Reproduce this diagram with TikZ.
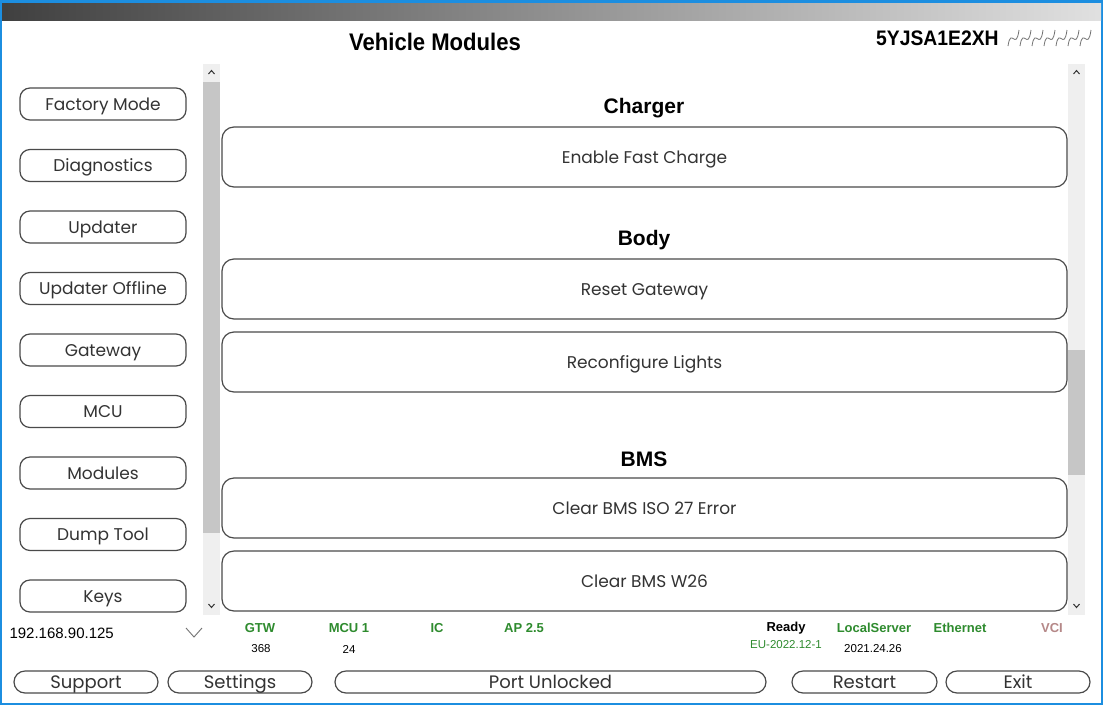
\documentclass[tikz,border=0pt]{standalone}
\usepackage{fontspec}
\setmainfont{Poppins}
\newfontfamily\arialfont{Liberation Sans}
\newfontfamily\narrowfont{Liberation Sans}[FakeStretch=0.92]
\usetikzlibrary{positioning}
\definecolor{winblue}{HTML}{1C8EE0}
\definecolor{edge}{HTML}{4A4A4A}
\definecolor{ink}{HTML}{333333}
\definecolor{track}{HTML}{EFEFEF}
\definecolor{thumb}{HTML}{C6C6C6}
\definecolor{okgreen}{HTML}{2E8B2E}
\definecolor{vcirose}{HTML}{B58888}
\begin{document}
\begin{tikzpicture}[x=1pt,y=-1pt,
    side/.style = {draw=edge, line width=1.2pt, rounded corners=10pt, minimum width=166pt, minimum height=32pt, inner sep=0pt, text height=12pt, text depth=0pt, text=ink, font=\fontsize{17}{17}\selectfont},
    entry/.style = {draw=edge, line width=1.2pt, rounded corners=12pt, minimum width=845pt, minimum height=60pt, inner sep=0pt, text height=12pt, text depth=0pt, text=ink, font=\fontsize{17}{17}\selectfont},
    head/.style = {font=\arialfont\bfseries\fontsize{21}{21}\selectfont},
    pill/.style = {draw=edge, line width=1.2pt, rounded corners=11pt, minimum height=22pt, inner sep=0pt, text height=12pt, text depth=0pt, text=ink, font=\fontsize{18}{18}\selectfont},
    stat/.style = {font=\arialfont\bfseries\fontsize{13}{13}\selectfont, text=okgreen},
    val/.style = {font=\arialfont\fontsize{11.5}{11.5}\selectfont, text=black}]
  \useasboundingbox (0,0) rectangle (1103,705);

  % window frame
  \fill[winblue] (0,0) rectangle (1103,705);
  \fill[white] (2,20) rectangle (1101,703);
  \shade[left color=black!75, right color=black!12] (2,3) rectangle (1101,20);

  % title and vin
  \node[font=\narrowfont\bfseries\fontsize{24}{24}\selectfont] (title) at (435,42) {Vehicle Modules};
  \node[font=\narrowfont\bfseries\fontsize{21}{21}\selectfont, anchor=west, inner sep=0pt] (vin) at (876,38) {5YJSA1E2XH};
  \foreach \k in {0,...,6}
    \draw[black!55, line width=0.8pt] (1008+12*\k,46) .. controls (1011+12*\k,26) and (1016+12*\k,52) .. (1019+12*\k,30);

  % scroll bars
  \fill[track] (203,64) rectangle (220,615);
  \fill[thumb] (203,82) rectangle (220,533);
  \fill[track] (1068,64) rectangle (1085,615);
  \fill[thumb] (1068,350) rectangle (1085,475);
  \foreach \sx in {211.5,1076.5} {
    \draw[ink, line width=1pt] (\sx-3,74) -- (\sx,70.5) -- (\sx+3,74);
    \draw[ink, line width=1pt] (\sx-3,604) -- (\sx,607.5) -- (\sx+3,604);
  }

  % side menu
  \node[side] (factory) at (103,104) {Factory Mode};
  \node[side] (diag) [below=28.3pt of factory] {Diagnostics};
  \node[side] (upd) [below=28.3pt of diag] {Updater};
  \node[side] (updoff) [below=28.3pt of upd] {Updater Offline};
  \node[side] (gw) [below=28.3pt of updoff] {Gateway};
  \node[side] (mcu) [below=28.3pt of gw] {MCU};
  \node[side] (mods) [below=28.3pt of mcu] {Modules};
  \node[side] (dump) [below=28.3pt of mods] {Dump Tool};
  \node[side] (keys) [below=28.3pt of dump] {Keys};

  % module list
  \node[head] (charger) at (644,108) {Charger};
  \node[entry] (fast) at (644.5,157) {Enable Fast Charge};
  \node[head] (body) at (644,240) {Body};
  \node[entry] (reset) at (644.5,289) {Reset Gateway};
  \node[entry] (lights) [below=11.8pt of reset] {Reconfigure Lights};
  \node[head] (bms) at (644,459) {BMS};
  \node[entry] (iso) at (644.5,508) {Clear BMS ISO 27 Error};
  \node[entry] (w26) [below=11.8pt of iso] {Clear BMS W26};

  % address box
  \node[font=\arialfont\fontsize{15}{15}\selectfont, anchor=west] (ip) at (6,633) {192.168.90.125};
  \draw[black!55, line width=0.9pt] (186,628) -- (194,637) -- (202,628);

  % status line
  \node[stat] (gtw) at (260,628) {GTW};
  \node[val] (gtwval) at (261,649) {368};
  \node[stat] (mcu1) at (349,628) {MCU 1};
  \node[val] (mcuval) at (349,649) {24};
  \node[stat] (ic) at (437,628) {IC};
  \node[stat] (ap) at (524,628) {AP 2.5};
  \node[stat, text=black] (ready) at (786,628) {Ready};
  \node[val, text=okgreen] (fw) at (786,645) {EU-2022.12-1};
  \node[stat] (server) at (874,628) {LocalServer};
  \node[val] (serverval) at (873,649) {2021.24.26};
  \node[stat] (eth) at (960,628) {Ethernet};
  \node[stat, text=vcirose] (vci) at (1052,628) {VCI};

  % bottom buttons
  \node[pill, minimum width=144pt] (support) at (86,682) {Support};
  \node[pill, minimum width=144pt] (settings) at (240,682) {Settings};
  \node[pill, minimum width=431pt] (port) at (550.5,682) {Port Unlocked};
  \node[pill, minimum width=145pt] (restart) at (864.5,682) {Restart};
  \node[pill, minimum width=144pt] (exit) at (1018,682) {Exit};
\end{tikzpicture}
\end{document}
